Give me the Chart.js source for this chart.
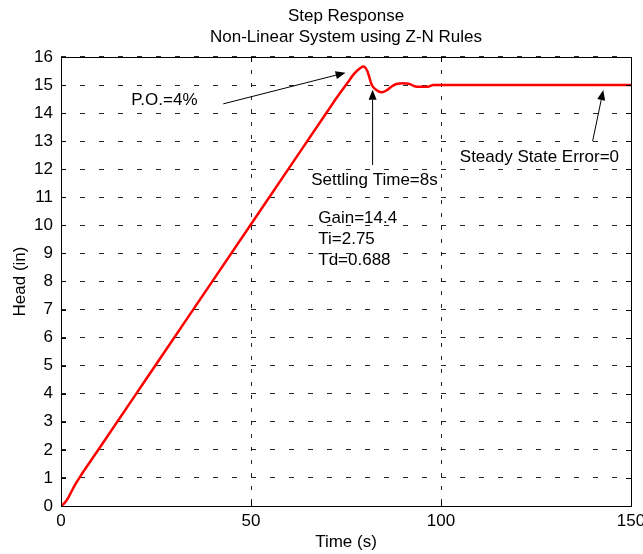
<!DOCTYPE html>
<html>
<head>
<meta charset="utf-8">
<script src="https://cdn.jsdelivr.net/npm/chart.js@4/dist/chart.umd.min.js"></script>
<style>
  html, body { margin: 0; padding: 0; background: #fff; }
  #wrap { width: 643px; height: 554px; }
</style>
</head>
<body>
<div id="wrap"><canvas id="stepChart" width="643" height="554"></canvas></div>
<script>
// values
var timeValues = [0, 1, 2, 3, 4, 5, 10, 20, 30, 40, 50, 60, 70, 73, 75.5, 77, 78.5, 79.6, 80.6, 81.8, 83, 84.4, 85.8, 87, 88.5, 90, 91.5, 93, 94.5, 96.5, 98, 100, 150];
var headValues = [0, 0.12, 0.32, 0.58, 0.82, 1.04, 2.04, 4.04, 6.04, 8.04, 10.04, 12.04, 14.04, 14.64, 15.1, 15.38, 15.58, 15.66, 15.5, 15.0, 14.82, 14.74, 14.82, 14.95, 15.05, 15.06, 15.05, 14.96, 14.94, 14.94, 15.0, 15.0, 15.0];

var xTicks = [0, 50, 100, 150];
var yTicks = [0, 1, 2, 3, 4, 5, 6, 7, 8, 9, 10, 11, 12, 13, 14, 15, 16];

var titleLines = ['Step Response', 'Non-Linear System using Z-N Rules'];

// text notes and arrows, in data units
var notes = [
  { text: 'P.O.=4%', x: 27.2, y: 14.47, align: 'center' },
  { text: 'Settling Time=8s', x: 82.5, y: 11.6, align: 'center' },
  { text: 'Steady State Error=0', x: 125.9, y: 12.42, align: 'center' },
  { text: 'Gain=14.4', x: 67.7, y: 10.26, align: 'left' },
  { text: 'Ti=2.75', x: 67.7, y: 9.52, align: 'left' },
  { text: 'Td=0.688', x: 67.7, y: 8.74, align: 'left' }
];
var arrows = [
  { from: [42.7, 14.33], to: [74.9, 15.44] },
  { from: [82.0, 12.15], to: [82.0, 14.83] },
  { from: [139.9, 13.0], to: [142.7, 14.82] }
];

var fontFamily = '"Liberation Sans", Arial, Helvetica, sans-serif';

var points = timeValues.map(function (t, i) { return { x: t, y: headValues[i] }; });

// matlab style box, inward ticks and annotations
var decorPlugin = {
  id: 'decor',
  afterDatasetsDraw: function (chart) {
    var ctx = chart.ctx;
    var a = chart.chartArea;
    var xs = chart.scales.x, ys = chart.scales.y;
    ctx.save();
    ctx.strokeStyle = '#000';
    ctx.lineWidth = 1;
    ctx.setLineDash([]);
    // ticks
    ctx.beginPath();
    yTicks.forEach(function (v) {
      var py = Math.round(ys.getPixelForValue(v)) + 0.5;
      ctx.moveTo(a.left, py); ctx.lineTo(a.left + 5, py);
      ctx.moveTo(a.right, py); ctx.lineTo(a.right - 5, py);
    });
    xTicks.forEach(function (v) {
      var px = Math.round(xs.getPixelForValue(v)) + 0.5;
      ctx.moveTo(px, a.bottom); ctx.lineTo(px, a.bottom - 5);
      ctx.moveTo(px, a.top); ctx.lineTo(px, a.top + 5);
    });
    ctx.stroke();
    ctx.strokeRect(Math.round(a.left) + 0.5, Math.round(a.top) + 0.5,
      Math.round(a.right - a.left), Math.round(a.bottom - a.top));

    // arrows
    arrows.forEach(function (ar) {
      var x1 = xs.getPixelForValue(ar.from[0]), y1 = ys.getPixelForValue(ar.from[1]);
      var x2 = xs.getPixelForValue(ar.to[0]), y2 = ys.getPixelForValue(ar.to[1]);
      var ang = Math.atan2(y2 - y1, x2 - x1);
      var len = 10, hw = 4;
      var bx = x2 - len * Math.cos(ang), by = y2 - len * Math.sin(ang);
      ctx.beginPath();
      ctx.moveTo(x1, y1); ctx.lineTo(bx, by);
      ctx.stroke();
      ctx.beginPath();
      ctx.moveTo(x2, y2);
      ctx.lineTo(bx + hw * Math.sin(ang), by - hw * Math.cos(ang));
      ctx.lineTo(bx - hw * Math.sin(ang), by + hw * Math.cos(ang));
      ctx.closePath();
      ctx.fillStyle = '#000';
      ctx.fill();
    });

    // notes
    ctx.font = '17px ' + fontFamily;
    ctx.fillStyle = '#000';
    ctx.textBaseline = 'middle';
    notes.forEach(function (n) {
      ctx.textAlign = n.align;
      ctx.fillText(n.text, xs.getPixelForValue(n.x), ys.getPixelForValue(n.y));
    });
    ctx.restore();
  }
};

var ctx = document.getElementById('stepChart').getContext('2d');

var stepChart = new Chart(ctx, {
  type: 'line',
  data: {
    datasets: [{
      label: 'Head',
      data: points,
      borderColor: '#ff0000',
      borderWidth: 2.5,
      pointRadius: 0,
      fill: false,
      cubicInterpolationMode: 'monotone'
    }]
  },
  options: {
    responsive: false,
    animation: false,
    events: [],
    layout: { padding: { top: 0, left: 0, right: 12, bottom: 0 } },
    plugins: {
      legend: { display: false },
      tooltip: { enabled: false },
      title: {
        display: true,
        fullSize: false,
        text: titleLines,
        color: '#000',
        font: { family: fontFamily, size: 17, weight: 'normal', lineHeight: 1.235 },
        padding: { top: 5.5, bottom: 9.5 }
      }
    },
    scales: {
      x: {
        type: 'linear',
        min: 0,
        max: 150,
        afterBuildTicks: function (scale) {
          scale.ticks = xTicks.map(function (v) { return { value: v }; });
        },
        afterFit: function (scale) {
          scale.height = 48;
          scale.paddingLeft = 0;
          scale.paddingRight = 0;
        },
        grid: { color: 'rgba(0,0,0,0.85)', lineWidth: 1, drawTicks: false },
        border: { display: false, dash: [4, 9] },
        ticks: {
          color: '#000',
          padding: 5,
          maxRotation: 0,
          font: { family: fontFamily, size: 17 }
        },
        title: {
          display: true,
          text: 'Time (s)',
          color: '#000',
          font: { family: fontFamily, size: 17 },
          padding: { top: 0, bottom: 1 }
        }
      },
      y: {
        type: 'linear',
        min: 0,
        max: 16,
        afterBuildTicks: function (scale) {
          scale.ticks = yTicks.map(function (v) { return { value: v }; });
        },
        afterFit: function (scale) {
          scale.width = 61;
          scale.paddingTop = 0;
          scale.paddingBottom = 0;
        },
        grid: { color: 'rgba(0,0,0,0.85)', lineWidth: 1, drawTicks: false },
        border: { display: false, dash: [5, 14] },
        ticks: {
          color: '#000',
          padding: 8,
          font: { family: fontFamily, size: 17 }
        },
        title: {
          display: true,
          text: 'Head (in)',
          color: '#000',
          font: { family: fontFamily, size: 17 },
          padding: { top: 10, bottom: 0 }
        }
      }
    }
  },
  plugins: [decorPlugin]
});
</script>
</body>
</html>
